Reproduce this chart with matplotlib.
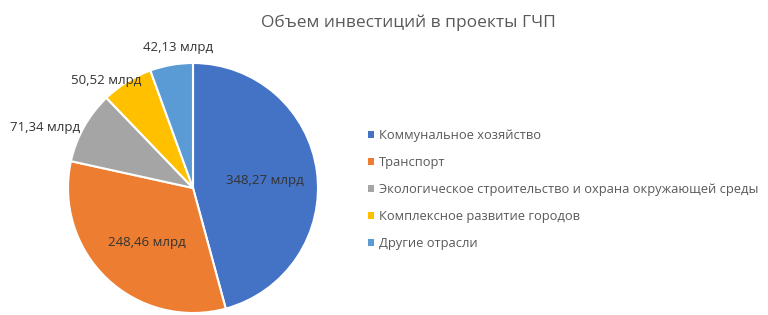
import numpy as np
import matplotlib
matplotlib.use("Agg")
import matplotlib.pyplot as plt

categories = ["Коммунальное хозяйство", "Транспорт",
              "Экологическое строительство и охрана окружающей среды",
              "Комплексное развитие городов", "Другие отрасли"]
values = [348.27, 248.46, 71.34, 50.52, 42.13]
title = "Объем инвестиций в проекты ГЧП"
colors = ["#4472C4", "#ED7D31", "#A5A5A5", "#FFC000", "#5B9BD5"]

plt.rcParams['font.family'] = ['Open Sans', 'DejaVu Sans']

W, H = 768, 315
fig = plt.figure(figsize=(W / 100, H / 100), dpi=100)
cx, cy, R = 193, 127, 125
ax = fig.add_axes([(cx - R) / W, (cy - R) / H, 2 * R / W, 2 * R / H])
wedges, _ = ax.pie(values, colors=colors, startangle=90, counterclock=False,
                   radius=1, wedgeprops=dict(edgecolor="white", linewidth=1.5))
ax.set_xlim(-1, 1)
ax.set_ylim(-1, 1)
ax.set_aspect('equal')
ax.axis('off')

# label placement (radius, angle shift in degrees)
label_r = [0.58, 0.57, 1.28, 1.11, 1.13]
label_shift = [-1.5, 3.5, 7.0, 7.0, -4.0]
for w, v, r, s in zip(wedges, values, label_r, label_shift):
    mid = np.deg2rad((w.theta1 + w.theta2) / 2 + s)
    txt = f"{v:.2f}".replace(".", ",") + " млрд"
    ax.text(r * np.cos(mid), r * np.sin(mid), txt, ha='center', va='center',
            fontsize=9.5, color="#333333", clip_on=False)

fig.text(408 / W, 1 - 23 / H, title, ha='center', va='center',
         fontsize=12.5, color="#595959")

leg = fig.legend(wedges, categories, loc='upper left',
                 bbox_to_anchor=(368 / W, 1 - 129 / H), frameon=False,
                 handlelength=0.45, handleheight=0.45, handletextpad=0.4,
                 labelspacing=1.08, borderpad=0, borderaxespad=0,
                 fontsize=9.3, labelcolor="#595959")
for h in leg.legend_handles:
    h.set_edgecolor('none')

fig.savefig("out.png", dpi=100)
